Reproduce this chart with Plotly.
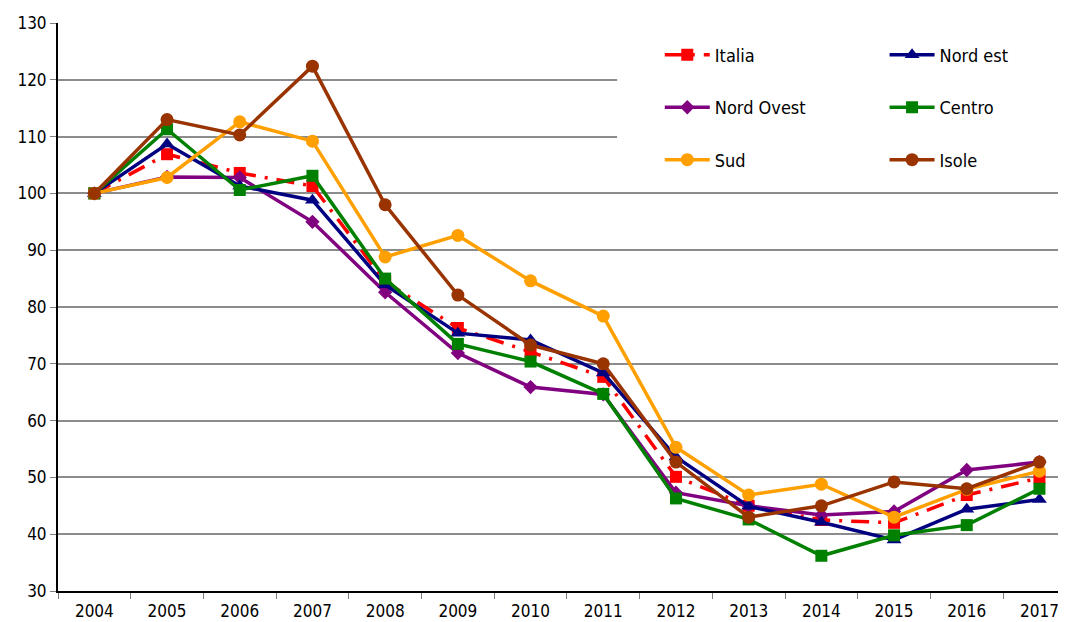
import plotly.graph_objects as go

years = ["2004", "2005", "2006", "2007", "2008", "2009", "2010",
         "2011", "2012", "2013", "2014", "2015", "2016", "2017"]

italia = [100, 106.9, 103.6, 101.3, 84.5, 76.3, 72.1, 67.7, 50.1, 45.0, 42.5, 42.0, 46.9, 49.9]
nord_est = [100, 108.7, 101.3, 98.8, 83.9, 75.4, 74.2, 68.4, 53.6, 44.9, 42.1, 39.0, 44.4, 46.1]
nord_ovest = [100, 102.9, 102.8, 95.0, 82.6, 71.9, 65.9, 64.6, 47.3, 45.0, 43.4, 44.0, 51.3, 52.7]
centro = [100, 111.3, 100.6, 103.1, 85.0, 73.5, 70.4, 64.7, 46.3, 42.6, 36.2, 39.8, 41.6, 48.0]
sud = [100, 102.8, 112.6, 109.2, 88.8, 92.6, 84.6, 78.4, 55.3, 46.9, 48.8, 43.0, 47.9, 51.1]
isole = [100, 113.0, 110.3, 122.4, 98.0, 82.1, 73.3, 70.0, 52.7, 43.0, 45.0, 49.2, 48.0, 52.7]

y_ticks = [30, 40, 50, 60, 70, 80, 90, 100, 110, 120, 130]

series = [
    ("Italia", italia, "#ff0000", "square", 12, "18px,9px,3px,9px", "legend", "g1", 1),
    ("Nord Ovest", nord_ovest, "#800080", "diamond", 11, "solid", "legend", "g2", 2),
    ("Nord est", nord_est, "#000080", "triangle-up", 13, "solid", "legend2", "g4", 1),
    ("Centro", centro, "#008000", "square", 12, "solid", "legend2", "g5", 2),
    ("Sud", sud, "#ffa000", "circle", 13, "solid", "legend", "g3", 3),
    ("Isole", isole, "#993300", "circle", 13, "solid", "legend2", "g6", 3),
]

FONT = "DejaVu Sans Condensed, DejaVu Sans"

fig = go.Figure()
for n, vals, col, sym, sz, dash, leg, grp, rank in series:
    fig.add_trace(go.Scatter(
        x=years, y=vals, name=n, mode="lines+markers",
        line=dict(color=col, width=3.5, dash=dash),
        marker=dict(color=col, symbol=sym, size=sz, line=dict(width=0)),
        legend=leg, legendgroup=grp, legendrank=rank,
    ))

legend_common = dict(
    bgcolor="rgba(255,255,255,0)",
    font=dict(family=FONT, size=18, color="#000000"),
    traceorder="grouped",
    tracegroupgap=26,
    itemwidth=45,
    yanchor="top",
    y=0.976,
)

fig.update_layout(
    width=1058, height=614,
    margin=dict(l=50, r=0, t=15, b=31),
    paper_bgcolor="white",
    plot_bgcolor="white",
    font=dict(family=FONT, size=17, color="#000000"),
    showlegend=True,
    legend=dict(x=0.597, xanchor="left", **legend_common),
    legend2=dict(x=0.820, xanchor="left", **legend_common),
    xaxis=dict(
        type="category",
        range=[-0.5, 13.365],
        tickson="boundaries",
        ticks="outside", ticklen=6, tickcolor="#808080",
        showline=True, linecolor="#000000", linewidth=2,
        showgrid=False, automargin=False,
        ticklabelstandoff=4,
        tickfont=dict(family=FONT, size=17),
    ),
    yaxis=dict(
        range=[30, 130],
        tickvals=y_ticks,
        ticks="outside", ticklen=6, tickcolor="#808080",
        showline=True, linecolor="#000000", linewidth=2,
        showgrid=True, gridcolor="#8c8c8c", gridwidth=1.5,
        zeroline=False, automargin=False,
        tickfont=dict(family=FONT, size=17),
    ),
    shapes=[dict(
        type="rect", xref="x", yref="y", layer="between",
        x0=7.19, x1=13.5, y0=102, y1=127,
        fillcolor="white", line=dict(width=0),
    )],
)

fig.write_html("out.html")
